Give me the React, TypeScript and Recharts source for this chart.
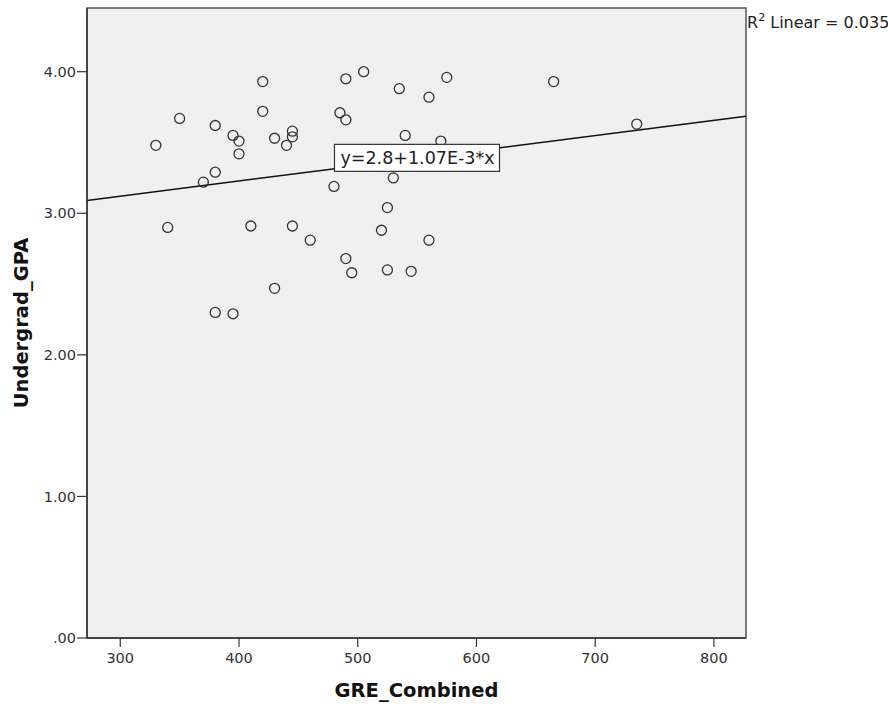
import React from "react";
import {
  ScatterChart,
  Scatter,
  XAxis,
  YAxis,
  CartesianGrid,
  ReferenceLine,
  ReferenceDot,
  ReferenceArea,
} from "recharts";

// GRE_Combined vs Undergrad_GPA
const greValues = [
  330, 340, 350, 370, 380, 380, 380, 395, 395, 400, 400, 410, 420, 420, 430,
  430, 440, 445, 445, 445, 460, 480, 485, 490, 490, 490, 495, 505, 520, 525,
  525, 530, 535, 540, 545, 560, 560, 570, 575, 665, 735,
];
const gpaValues = [
  3.48, 2.9, 3.67, 3.22, 3.62, 3.29, 2.3, 3.55, 2.29, 3.51, 3.42, 2.91, 3.93,
  3.72, 3.53, 2.47, 3.48, 3.58, 3.54, 2.91, 2.81, 3.19, 3.71, 3.95, 3.66, 2.68,
  2.58, 4.0, 2.88, 3.04, 2.6, 3.25, 3.88, 3.55, 2.59, 3.82, 2.81, 3.51, 3.96,
  3.93, 3.63,
];

const xTicks = [300, 400, 500, 600, 700, 800];
const yTicks = [0, 1, 2, 3, 4];
const xDomain = [272, 827];
const yDomain = [0, 4.45];

// fit line y = a + b*x
const intercept = 2.8;
const slope = 1.07e-3;
const equationText = "y=2.8+1.07E-3*x";
const rSquared = "0.035";

const points = greValues.map((g, i) => ({ gre: g, gpa: gpaValues[i] }));
const fitAt = (x: number) => intercept + slope * x;
const midX = (xDomain[0] + xDomain[1]) / 2;

const font = "'DejaVu Sans', sans-serif";

const Ring = (props: any) => (
  <circle
    cx={props.cx}
    cy={props.cy}
    r={5}
    fill="none"
    stroke="#333"
    strokeWidth={1.3}
  />
);

const EquationBox = (props: any) => (
  <g>
    <rect
      x={props.cx - 82}
      y={props.cy - 14}
      width={165}
      height={27}
      fill="#fff"
      stroke="#333"
      strokeWidth={1.2}
    />
    <text
      x={props.cx + 1}
      y={props.cy + 6}
      textAnchor="middle"
      fontSize={17.5}
      fontFamily={font}
      fill="#222"
    >
      {equationText}
    </text>
  </g>
);

export default function App() {
  return (
    <div style={{ position: "absolute", left: 0, top: 0, width: 888, height: 708, background: "#fff" }}>
      <ScatterChart
        width={888}
        height={708}
        margin={{ top: 8, right: 142, left: 0, bottom: 0 }}
      >
        <ReferenceArea
          x1={xDomain[0]}
          x2={xDomain[1]}
          y1={yDomain[0]}
          y2={yDomain[1]}
          fill="#f0f0f0"
          fillOpacity={1}
          stroke="#555"
          strokeWidth={1.5}
        />
        <XAxis
          type="number"
          dataKey="gre"
          domain={xDomain}
          ticks={xTicks}
          allowDataOverflow
          height={70}
          tickSize={9}
          tickMargin={6}
          tick={{ fontSize: 14.5, fill: "#333", fontFamily: font }}
          axisLine={{ stroke: "#333", strokeWidth: 1.5 }}
          tickLine={{ stroke: "#333", strokeWidth: 1.2 }}
          label={{
            value: "GRE_Combined",
            position: "insideBottom",
            offset: 11,
            style: { fontSize: 19.5, fontWeight: "bold", fill: "#111", fontFamily: font },
          }}
        />
        <YAxis
          type="number"
          dataKey="gpa"
          domain={yDomain}
          ticks={yTicks}
          allowDataOverflow
          width={87}
          tickSize={10}
          tickMargin={1}
          tickFormatter={(v: number) => (v === 0 ? ".00" : v.toFixed(2))}
          tick={{ fontSize: 14.5, fill: "#333", fontFamily: font }}
          axisLine={{ stroke: "#333", strokeWidth: 1.5 }}
          tickLine={{ stroke: "#333", strokeWidth: 1.2 }}
          label={{
            value: "Undergrad_GPA",
            angle: -90,
            position: "insideLeft",
            offset: 21,
            style: { textAnchor: "middle", fontSize: 19.5, fontWeight: "bold", fill: "#111", fontFamily: font },
          }}
        />
        <CartesianGrid horizontal={false} vertical={false} />
        <Scatter data={points} shape={Ring} isAnimationActive={false} />
        <ReferenceLine
          segment={[
            { x: xDomain[0], y: fitAt(xDomain[0]) },
            { x: xDomain[1], y: fitAt(xDomain[1]) },
          ]}
          stroke="#111"
          strokeWidth={1.5}
          ifOverflow="visible"
        />
        <ReferenceDot x={midX} y={fitAt(midX)} shape={EquationBox} ifOverflow="visible" />
      </ScatterChart>
      <svg
        width={888}
        height={708}
        style={{ position: "absolute", left: 0, top: 0, pointerEvents: "none" }}
      >
        <text x={747} y={28} fontSize={16} fontFamily={font} fill="#222">
          R<tspan dy={-7} fontSize={11}>2</tspan>
          <tspan dy={7} fontSize={16}>{"  Linear = " + rSquared}</tspan>
        </text>
      </svg>
    </div>
  );
}
